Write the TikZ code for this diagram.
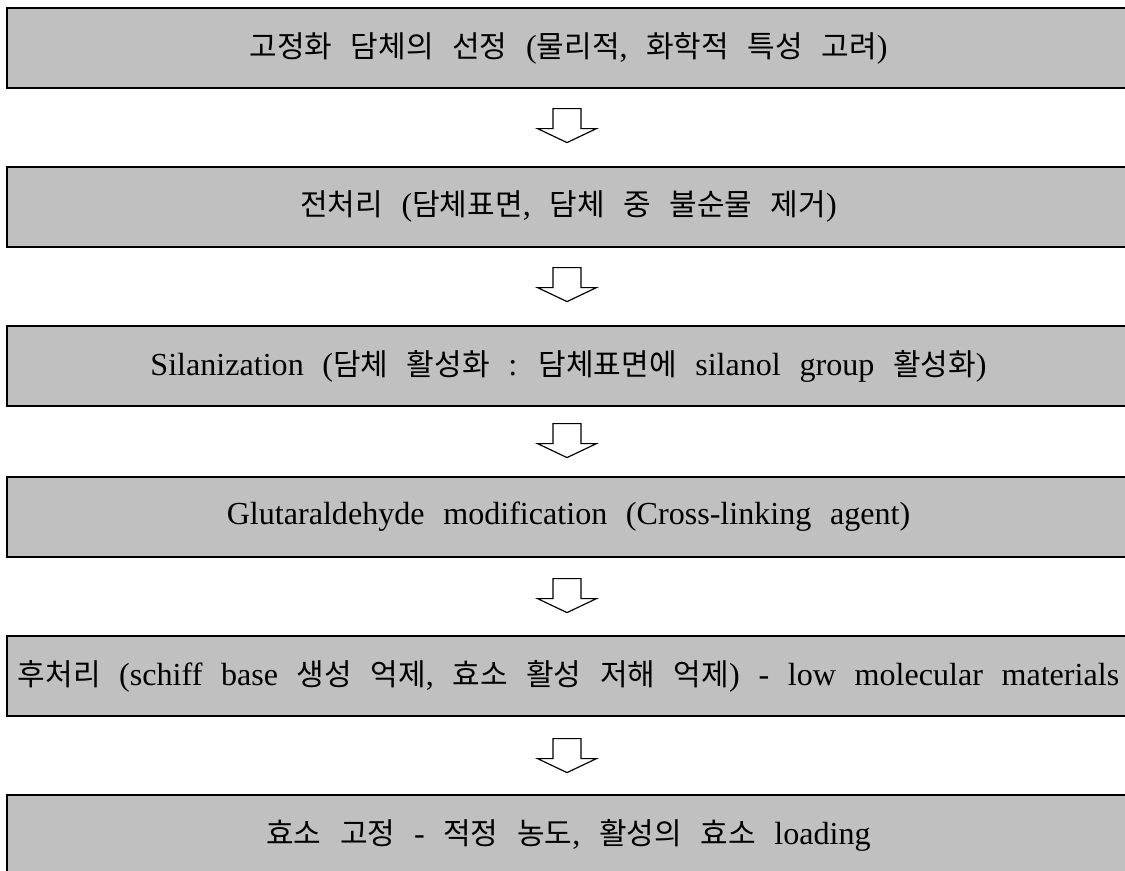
\documentclass[tikz,border=0pt]{standalone}
\usepackage{fontspec}
\setmainfont{Liberation Serif}
\newfontfamily\krfont{Noto Sans CJK KR}[Scale=0.935]
\newcommand{\kr}[1]{{\krfont #1}}
\newcommand{\boxfont}{\fontsize{27.4}{32}\selectfont\spaceskip=0.58em\relax}
\usetikzlibrary{positioning}
\definecolor{boxgray}{RGB}{192,192,192}
\tikzset{procbox/.style={rectangle,draw=black,fill=boxgray,line width=1pt,minimum width=33.69cm,minimum height=2.4cm,inner sep=0pt,text centered},
  flowarrow/.style={draw=black,fill=white,line width=1pt,line join=miter},
  downarrow/.pic={\draw[flowarrow] (-14,0) -- (14,0) -- (14,20) -- (29.5,20) -- (0,34) -- (-29.5,20) -- (-14,20) -- cycle;}}

\begin{document}
\begin{tikzpicture}[x=0.03cm,y=-0.03cm,font=\boxfont]
\useasboundingbox (0,0) rectangle (1125,870);
\clip (0,0) rectangle (1125,870);
%boxes
\node (b1) at (568.5,48) [procbox] {\kr{고정화 담체의 선정} (\kr{물리적}, \kr{화학적 특성 고려})};
\node (b2) at (568.5,207) [procbox] {\kr{전처리} (\kr{담체표면}, \kr{담체 중 불순물 제거})};
\node (b3) at (568.5,366) [procbox] {Silanization (\kr{담체 활성화} : \kr{담체표면에} silanol group \kr{활성화})};
\node (b4) at (568.5,517) [procbox] {Glutaraldehyde modification (Cross-linking agent)};
\node (b5) at (568.5,676) [procbox] {\kr{후처리} (schiff base \kr{생성 억제}, \kr{효소 활성 저해 억제}) - low molecular materials};
\node (b6) at (568.5,835) [procbox] {\kr{효소 고정} - \kr{적정 농도}, \kr{활성의 효소} loading};

%arrows
\path (b1.south) ++(-1.5,20) pic {downarrow};
\path (b2.south) ++(-1.5,20) pic {downarrow};
\path (b3.south) ++(-1.5,17) pic {downarrow};
\path (b4.south) ++(-1.5,21) pic {downarrow};
\path (b5.south) ++(-1.5,22) pic {downarrow};
\end{tikzpicture}
\end{document}
